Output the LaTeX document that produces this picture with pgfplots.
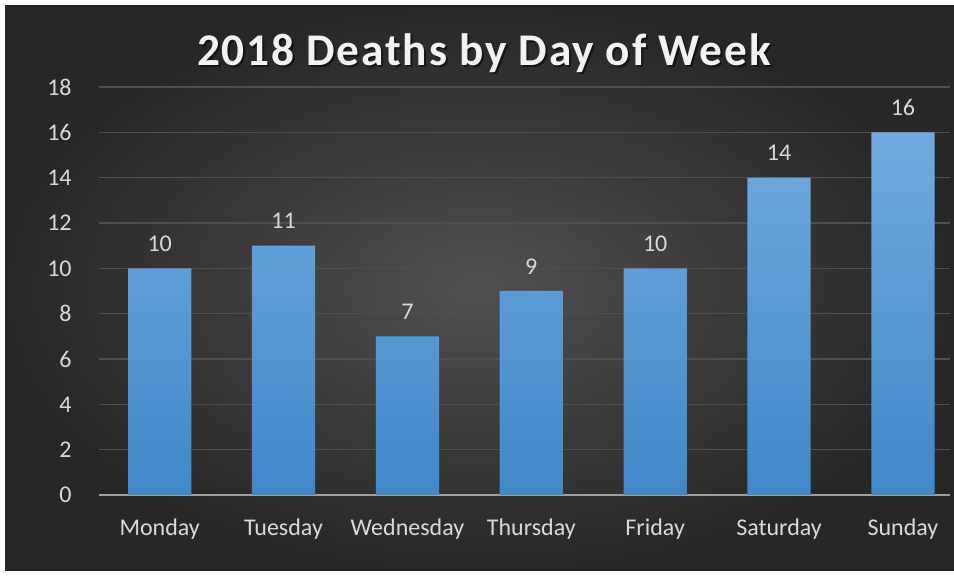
\documentclass[border=0pt]{standalone}
\usepackage{fontspec}
\setmainfont{Carlito}
\usepackage{pgfplots}
\pgfplotsset{compat=1.18}

\definecolor{bgin}{HTML}{505050}
\definecolor{bgout}{HTML}{272727}
\definecolor{bartop}{HTML}{72AADF}
\definecolor{barbot}{HTML}{3F88C8}
\definecolor{txt}{HTML}{D9D9D9}
\definecolor{gridc}{HTML}{4F4F4F}

\begin{document}
\begin{tikzpicture}[x=0.75pt,y=0.75pt]
  % canvas: 954 x 577 px
  \fill[white] (0,0) rectangle (954,577);
  \shade[inner color=bgin, outer color=bgout] (5,6) rectangle (954,571);
  % title with soft shadow
  \node[font=\bfseries\fontsize{34}{38}\selectfont\addfontfeature{LetterSpace=4}, text=black, opacity=0.5]
    at (486,522) {2018 Deaths by Day of Week};
  \node[font=\bfseries\fontsize{34}{38}\selectfont\addfontfeature{LetterSpace=4}, text=white!95!black]
    at (484,524) {2018 Deaths by Day of Week};
  \begin{axis}[
    at={(74.25pt,61.5pt)}, anchor=south west,
    scale only axis, width=638.25pt, height=306pt,
    ymin=0, ymax=18, ytick={0,2,...,18},
    xmin=-0.49, xmax=6.38,
    xtick=data,
    xticklabels={Monday,Tuesday,Wednesday,Thursday,Friday,Saturday,Sunday},
    axis x line*=bottom, axis y line*=left,
    x axis line style={-, draw=gray!75!white, line width=1.5pt},
    y axis line style={draw=none},
    major tick length=0pt,
    ymajorgrids, grid style={gridc, line width=0.8pt},
    ticklabel style={text=txt, font=\fontsize{18}{20}\selectfont},
    /pgf/number format/assume math mode=true,
    yticklabel style={anchor=east, xshift=-17pt},
    xticklabel style={anchor=north, yshift=-14pt},
    ybar, bar width=0.51,
    nodes near coords,
    nodes near coords style={text=txt, font=\fontsize{18}{20}\selectfont, anchor=south, yshift=9pt},
    clip=false,
  ]
    \addplot[draw=none, top color=bartop, bottom color=barbot]
      coordinates {(0,10) (1,11) (2,7) (3,9) (4,10) (5,14) (6,16)};
  \end{axis}
\end{tikzpicture}
\end{document}
